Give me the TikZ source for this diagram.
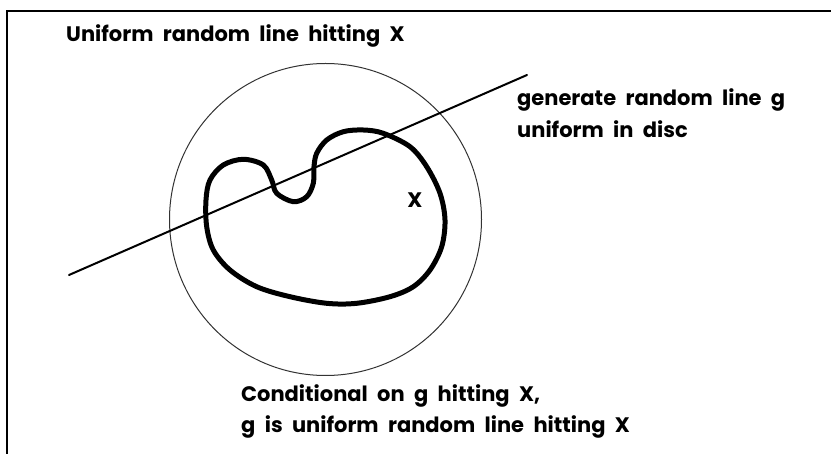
\documentclass[tikz,border=0pt]{standalone}
\usepackage{fontspec}
\setmainfont{Poppins}[WordSpace=2.1]
\usepackage{tikz}
\usetikzlibrary{positioning}
\tikzstyle{notetext} = [anchor=base west, inner sep=0pt, font=\fontsize{21}{24}\selectfont\bfseries]
\tikzstyle{frame} = [line width=2pt, line cap=rect]
\tikzstyle{disc} = [line width=1pt, draw=black!80]
\tikzstyle{randline} = [line width=2pt, line cap=round]
\tikzstyle{region} = [line width=5pt, line join=round]

\begin{document}
\begin{tikzpicture}[x=1pt, y=-1pt]
    \useasboundingbox (0,0) rectangle (831,454);

    % === FRAME (runs off right and bottom) ===
    \draw[frame] (7,470) -- (7,11) -- (850,11);

    % === DISC ===
    \coordinate (centre) at (325.5,219.5);
    \draw[disc] (centre) circle (156pt);

    % === REGION X ===
    \draw[region] plot[smooth cycle, tension=0.55] coordinates {
        (243.3,159.3) (263.3,165) (271.7,180) (276.7,193.3) (293.3,201.7)
        (306.7,196.7) (313.3,183.3) (314,166.7) (316.7,153.3) (326.7,140)
        (343.3,131.7) (363.3,130) (383.3,133.3) (410,146.7) (426.7,166.7)
        (440,193.3) (445,220) (441.7,246.7) (430,270) (413.3,286.7)
        (390,296.7) (356.7,303.3) (326.7,303.3) (290,296.7) (256.7,286.7)
        (230,270) (213.3,250) (206.7,226.7) (206,200) (210,180) (223.3,165)};

    % === RANDOM LINE g ===
    \coordinate (gstart) at (69,275);
    \coordinate (gend) at (527,75);
    \draw[randline] (gstart) -- (gend);

    % === TEXTS ===
    \node[notetext] (title) at (66,42) {Uniform random line hitting X};
    \node[notetext] (gen1) at (517,106) {generate random line g};
    \node[notetext] (gen2) at ([yshift=-32pt]gen1.base west) {uniform in disc};
    \node[notetext, anchor=center] (xlab) at (415,200) {X};
    \node[notetext] (cond1) at (241,402) {Conditional on g hitting X,};
    \node[notetext] (cond2) at ([yshift=-31pt]cond1.base west) {g is uniform random line hitting X};
\end{tikzpicture}
\end{document}
